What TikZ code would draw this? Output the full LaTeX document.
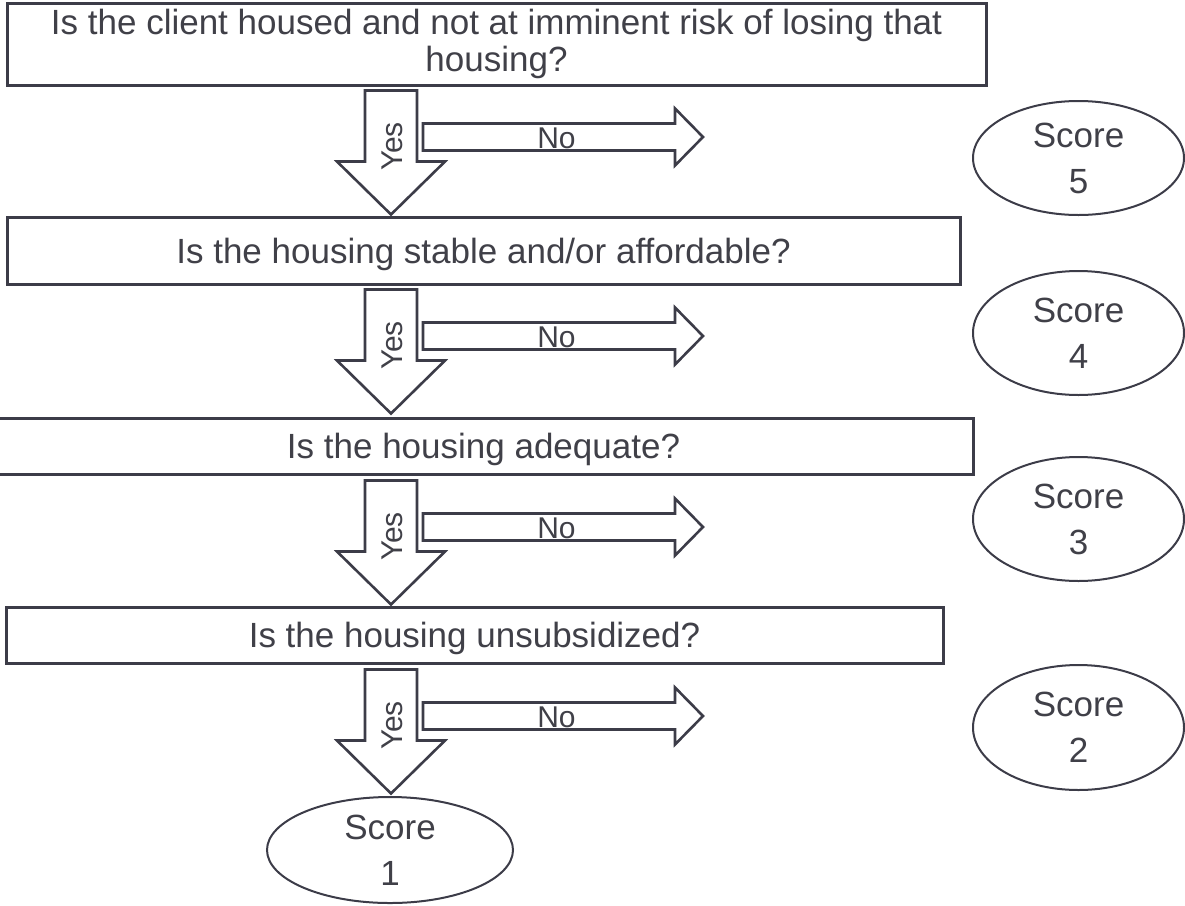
\documentclass[tikz,border=0pt]{standalone}
\usepackage{fontspec}
\setmainfont{Liberation Sans}
\usetikzlibrary{shapes.geometric,calc}
\definecolor{edge}{HTML}{3C3C48}
\definecolor{ink}{HTML}{404048}
\tikzset{
  question/.style={draw=edge, line width=3pt, fill=white, rectangle, inner sep=0pt,
    text=ink, font=\fontsize{35}{37}\selectfont, align=center},
  oneline/.style={text height=25pt, text depth=0pt},
  score/.style={draw=edge, line width=2pt, ellipse, inner sep=0pt,
    text=ink, font=\fontsize{35}{46}\selectfont, align=center},
  blockarrow/.style={draw=edge, line width=2.6pt, fill=white, line join=miter},
  yeslabel/.style={text=ink, font=\fontsize{30}{30}\selectfont, rotate=90, inner sep=0pt},
  nolabel/.style={text=ink, font=\fontsize{30}{30}\selectfont, inner sep=0pt, anchor=base},
  % a downward "Yes" block arrow with a "No" block arrow branching to the right;
  % the origin is the top centre of the "Yes" shaft
  yesno/.pic={
    \draw[blockarrow] (-26,0) -- (26,0) -- (26,71) -- (54,71) -- (0,124)
      -- (-54,71) -- (-26,71) -- cycle;
    \node[yeslabel] (-yes) at (1,56) {Yes};
    \draw[blockarrow] (32,33) -- (284,33) -- (284,18) -- (312,46.5) -- (284,75)
      -- (284,60) -- (32,60) -- cycle;
    \node[nolabel] (-no) at (165.5,58) {No};
  }
}
\begin{document}
\begin{tikzpicture}[x=1pt,y=-1pt]
\useasboundingbox (0,0) rectangle (1185,905);

% questions
\node[question, minimum width=979, minimum height=82] (q1) at (496.5,44)
  {Is the client housed and not at imminent risk of losing that\\housing?};
\node[question, oneline, minimum width=953, minimum height=67] (q2) at (483.5,250.5)
  {Is the housing stable and/or affordable?};
\node[question, oneline, minimum width=979, minimum height=56] (q3) at (483.5,446)
  {Is the housing adequate?};
\node[question, oneline, minimum width=937, minimum height=56] (q4) at (474.5,635)
  {Is the housing unsubsidized?};

% scores
\node[score, minimum width=211, minimum height=114] (s5) at (1078.5,158) {Score\\5};
\node[score, minimum width=211, minimum height=124] (s4) at (1078.5,333) {Score\\4};
\node[score, minimum width=211, minimum height=124] (s3) at (1078.5,519) {Score\\3};
\node[score, minimum width=211, minimum height=125] (s2) at (1078.5,727.5) {Score\\2};
\node[score, minimum width=246, minimum height=106] (s1) at (390,850) {Score\\1};

% branches under each question
\coordinate (yescol) at (391,0);
\pic (b1) at ($(q1.south -| yescol)+(0,4)$) {yesno};
\pic (b2) at ($(q2.south -| yescol)+(0,4)$) {yesno};
\pic (b3) at ($(q3.south -| yescol)+(0,5)$) {yesno};
\pic (b4) at ($(q4.south -| yescol)+(0,5)$) {yesno};
\end{tikzpicture}
\end{document}
